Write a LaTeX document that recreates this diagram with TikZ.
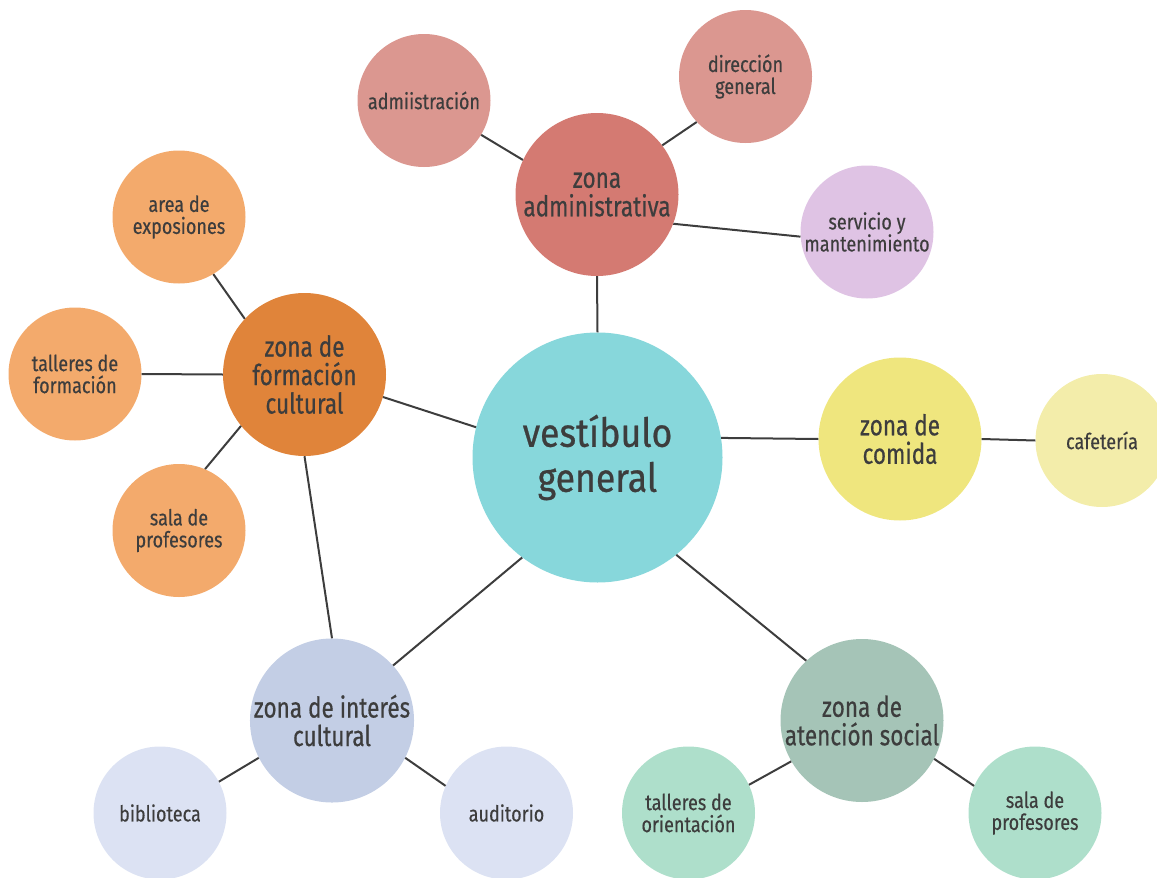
\documentclass[tikz,border=0pt]{standalone}
\usepackage{fontspec}
\setmainfont{Fira Sans}
\newfontfamily\hubfont[FakeStretch=0.89, FakeBold=0.6]{Fira Sans}
\newfontfamily\zonefont[FakeStretch=0.79, FakeBold=0.5]{Fira Sans}
\newfontfamily\leaffont[FakeStretch=0.82, FakeBold=0.4]{Fira Sans}
\usepackage{tikz}

\definecolor{vestcol}{HTML}{87D7DB}
\definecolor{admcol}{HTML}{D47A72}
\definecolor{admlight}{HTML}{DB9790}
\definecolor{servcol}{HTML}{DFC3E4}
\definecolor{formcol}{HTML}{E0843A}
\definecolor{formlight}{HTML}{F3AA6C}
\definecolor{comcol}{HTML}{EFE67E}
\definecolor{comlight}{HTML}{F3EDAA}
\definecolor{intcol}{HTML}{C3CEE5}
\definecolor{intlight}{HTML}{DCE2F3}
\definecolor{atencol}{HTML}{A5C4B7}
\definecolor{atenlight}{HTML}{AEDFCB}
\definecolor{inkcol}{HTML}{3D3D3D}

\begin{document}
\begin{tikzpicture}[x=1pt, y=-1pt,
        every node/.style = {circle, inner sep = 0pt, align = center, text = inkcol},
        hub/.style = {minimum size = 250pt, font = \hubfont\fontsize{40}{45}\selectfont},
        zone/.style = {minimum size = 163pt, font = \zonefont\fontsize{28.5}{28.5}\selectfont},
        leaf/.style = {minimum size = 133pt, font = \leaffont\fontsize{22}{22}\selectfont},
        link/.style = {draw = inkcol, line width = 2pt}]
        \useasboundingbox (0, 0) rectangle (1157, 878);
        \clip (0, 0) rectangle (1157, 878);

        \node [hub, fill = vestcol] (vest) at (597.5, 457.5) {vestíbulo\\general};

        \node [zone, fill = admcol] (admin) at (597, 194.5) {zona\\administrativa};
        \node [leaf, fill = admlight] (admi) at (424, 100.5) {admiistración};
        \node [leaf, fill = admlight] (dirgen) at (745.5, 76.5) {dirección\\general};
        \node [leaf, fill = servcol] (serv) at (867, 232) {servicio y\\mantenimiento};

        \node [zone, fill = formcol] (formcult) at (304.5, 374.5) {zona de\\formación\\cultural};
        \node [leaf, fill = formlight] (expo) at (179, 217) {area de\\exposiones};
        \node [leaf, fill = formlight] (tallform) at (75, 374) {talleres de\\formación};
        \node [leaf, fill = formlight] (salaprof) at (179, 530.5) {sala de\\profesores};

        \node [zone, fill = comcol] (comida) at (900, 439) {zona de\\comida};
        \node [leaf, fill = comlight] (cafe) at (1102, 440.5) {cafetería};

        \node [zone, fill = intcol] (interes) at (332, 720.5) {zona de interés\\cultural};
        \node [leaf, fill = intlight] (biblio) at (160, 813) {biblioteca};
        \node [leaf, fill = intlight] (audit) at (506.5, 813) {auditorio};

        \node [zone, fill = atencol] (atencion) at (862, 720.5) {zona de\\atención social};
        \node [leaf, fill = atenlight] (tallor) at (688.5, 813) {talleres de\\orientación};
        \node [leaf, fill = atenlight] (salaprofb) at (1035, 813) {sala de\\profesores};

        \draw [link] (admi.-31) -- (admin.155);
        \draw [link] (dirgen.223) -- (admin.37);
        \draw [link] (admin.-21) -- (serv.184);
        \draw [link] (admin.-90) -- (vest.90);
        \draw [link] (vest.9.4) -- (comida.180);
        \draw [link] (comida.0) -- (cafe.180);
        \draw [link] (vest.166) -- (formcult.-16);
        \draw [link] (expo.-59.5) -- (formcult.137);
        \draw [link] (tallform.0) -- (formcult.180);
        \draw [link] (salaprof.67) -- (formcult.219);
        \draw [link] (formcult.-90) -- (interes.90);
        \draw [link] (vest.-127) -- (interes.42.5);
        \draw [link] (vest.-51) -- (atencion.133.6);
        \draw [link] (biblio.28.8) -- (interes.-153);
        \draw [link] (interes.-27.8) -- (audit.156);
        \draw [link] (tallor.25) -- (atencion.-150.5);
        \draw [link] (atencion.-28.4) -- (salaprofb.156);
\end{tikzpicture}
\end{document}
